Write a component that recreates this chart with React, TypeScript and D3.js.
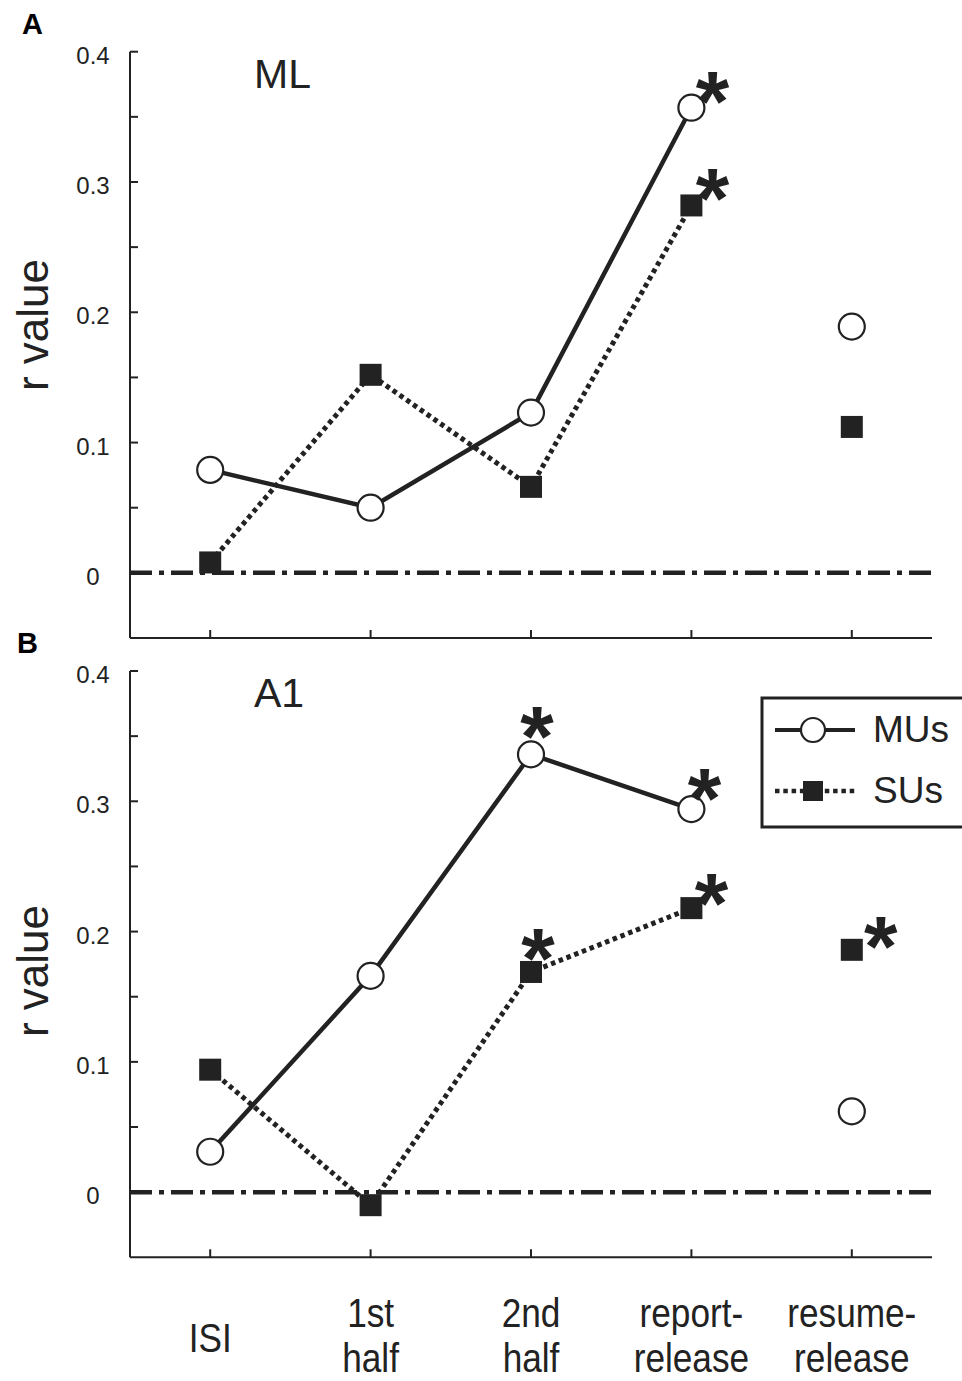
import React, { useRef, useEffect } from 'react';
import * as d3 from 'd3';

// categories on the x axis
const categories = ['ISI', '1st half', '2nd half', 'report-release', 'resume-release'];
const categoryLines = [['ISI'], ['1st', 'half'], ['2nd', 'half'], ['report-', 'release'], ['resume-', 'release']];

// r values, panel A (ML)
const mlMU = [0.079, 0.05, 0.123, 0.357, 0.189];
const mlSU = [0.008, 0.152, 0.066, 0.282, 0.112];
// r values, panel B (A1)
const a1MU = [0.031, 0.166, 0.336, 0.294, 0.062];
const a1SU = [0.094, -0.01, 0.169, 0.218, 0.186];

// significance marks
const mlMUsig = [false, false, false, true, false];
const mlSUsig = [false, false, false, true, false];
const a1MUsig = [false, false, true, true, false];
const a1SUsig = [false, false, true, true, true];

// first N categories are joined by a line
const joinedCount = 4;

const yMajor = [0, 0.1, 0.2, 0.3, 0.4];
const yMinor = [0.05, 0.15, 0.25, 0.35];
const yDomain = [-0.05, 0.4];

const INK = '#222';
const FONT = '"Liberation Sans", Arial, Helvetica, sans-serif';

// where the asterisk sits relative to its point, per panel/series/index
const starOffset = {
    'A-MU-3': [21, -26], 'A-SU-3': [21, -27],
    'B-MU-2': [6, -38], 'B-MU-3': [13, -31],
    'B-SU-2': [7, -33], 'B-SU-3': [20, -25], 'B-SU-4': [29, -23]
};

const App = () => {
    const ref = useRef(null);

    useEffect(() => {
        const svg = d3.select(ref.current);
        svg.selectAll('*').remove();

        const x = d3.scalePoint().domain(categories).range([130, 932]).padding(0.5);
        const starSize = 86;

        const drawPanel = (key, letter, name, top, titleY, mu, su, muSig, suSig) => {
            const y = d3.scaleLinear().domain(yDomain).range([top + 586.3, top]);
            const g = svg.append('g');
            const x0 = x.range()[0];
            const x1 = x.range()[1];

            // zero line, dash-dot
            g.append('line')
                .attr('x1', x0).attr('x2', x1)
                .attr('y1', y(0)).attr('y2', y(0))
                .attr('stroke', INK).attr('stroke-width', 4.5)
                .attr('stroke-dasharray', '22 7 5 7');

            // y axis with inward ticks
            g.append('line')
                .attr('x1', x0).attr('x2', x0)
                .attr('y1', y(0.4)).attr('y2', y(-0.05))
                .attr('stroke', INK).attr('stroke-width', 2);
            g.selectAll('.ytick').data(yMajor.concat(yMinor)).enter().append('line')
                .attr('x1', x0).attr('x2', x0 + 8)
                .attr('y1', d => y(d)).attr('y2', d => y(d))
                .attr('stroke', INK).attr('stroke-width', 2);
            g.selectAll('.ylab').data(yMajor).enter().append('text')
                .attr('x', 93).attr('y', d => y(d) + 12)
                .attr('text-anchor', 'middle')
                .style('font-family', FONT).style('font-size', '24px').attr('fill', INK)
                .text(d => d === 0 ? '0' : d3.format('.1f')(d));

            // x axis with upward ticks
            g.append('line')
                .attr('x1', x0).attr('x2', x1)
                .attr('y1', y(-0.05)).attr('y2', y(-0.05))
                .attr('stroke', INK).attr('stroke-width', 2);
            g.selectAll('.xtick').data(categories).enter().append('line')
                .attr('x1', d => x(d)).attr('x2', d => x(d))
                .attr('y1', y(-0.05)).attr('y2', y(-0.05) - 8)
                .attr('stroke', INK).attr('stroke-width', 2);

            // axis title
            g.append('text')
                .attr('transform', 'translate(48,' + titleY + ') rotate(-90)')
                .attr('text-anchor', 'middle')
                .style('font-family', FONT).style('font-size', '44px').attr('fill', INK)
                .text('r value');

            // panel letter and region name
            g.append('text')
                .attr('x', letter === 'A' ? 22 : 17).attr('y', top - 18)
                .style('font-family', FONT).style('font-size', '29px').style('font-weight', 'bold')
                .attr('fill', '#000')
                .text(letter);
            g.append('text')
                .attr('x', 254).attr('y', top + 36)
                .style('font-family', FONT).style('font-size', '41px').attr('fill', INK)
                .text(name);

            const line = d3.line().x(d => x(categories[d.i])).y(d => y(d.v));
            const pts = arr => arr.map((v, i) => ({ v, i }));

            // SUs dotted line
            g.append('path')
                .datum(pts(su).slice(0, joinedCount))
                .attr('fill', 'none').attr('stroke', INK)
                .attr('stroke-width', 5).attr('stroke-dasharray', '4.5 3.8')
                .attr('d', line);
            // MUs solid line
            g.append('path')
                .datum(pts(mu).slice(0, joinedCount))
                .attr('fill', 'none').attr('stroke', INK).attr('stroke-width', 4.5)
                .attr('d', line);

            // squares
            g.selectAll('.su').data(pts(su)).enter().append('rect')
                .attr('x', d => x(categories[d.i]) - 11).attr('y', d => y(d.v) - 11)
                .attr('width', 22).attr('height', 22)
                .attr('fill', INK);
            // circles
            g.selectAll('.mu').data(pts(mu)).enter().append('circle')
                .attr('cx', d => x(categories[d.i])).attr('cy', d => y(d.v))
                .attr('r', 13).attr('fill', '#fff')
                .attr('stroke', INK).attr('stroke-width', 2.2);

            // asterisks
            const stars = [];
            mu.forEach((v, i) => { if (muSig[i]) stars.push({ v, i, s: 'MU' }); });
            su.forEach((v, i) => { if (suSig[i]) stars.push({ v, i, s: 'SU' }); });
            g.selectAll('.star').data(stars).enter().append('text')
                .attr('x', d => x(categories[d.i]) + starOffset[key + '-' + d.s + '-' + d.i][0])
                .attr('y', d => y(d.v) + starOffset[key + '-' + d.s + '-' + d.i][1] + starSize * 0.575)
                .attr('text-anchor', 'middle')
                .style('font-family', FONT).style('font-size', starSize + 'px').style('font-weight', 'bold')
                .attr('fill', INK)
                .text('*');
        };

        drawPanel('A', 'A', 'ML', 51.7, 325, mlMU, mlSU, mlMUsig, mlSUsig);
        drawPanel('B', 'B', 'A1', 671, 971, a1MU, a1SU, a1MUsig, a1SUsig);

        // category labels under panel B
        const lab = svg.selectAll('.xlab').data(categoryLines).enter().append('g')
            .attr('transform', (d, i) => 'translate(' + x(categories[i]) + ',0)');
        lab.each(function (d) {
            const base = d.length === 1 ? [1352] : [1327, 1372];
            d.forEach((t, k) => {
                d3.select(this).append('text')
                    .attr('transform', 'translate(0,' + base[k] + ') scale(0.88,1)')
                    .attr('text-anchor', 'middle')
                    .style('font-family', FONT).style('font-size', '40px').attr('fill', INK)
                    .text(t);
            });
        });

        // legend
        const lg = svg.append('g');
        lg.append('rect')
            .attr('x', 762).attr('y', 698).attr('width', 230).attr('height', 129)
            .attr('fill', '#fff').attr('stroke', INK).attr('stroke-width', 3);
        lg.append('line').attr('x1', 775).attr('x2', 855).attr('y1', 730).attr('y2', 730)
            .attr('stroke', INK).attr('stroke-width', 4);
        lg.append('circle').attr('cx', 813).attr('cy', 730).attr('r', 12)
            .attr('fill', '#fff').attr('stroke', INK).attr('stroke-width', 2.2);
        lg.append('line').attr('x1', 775).attr('x2', 855).attr('y1', 791).attr('y2', 791)
            .attr('stroke', INK).attr('stroke-width', 4.5).attr('stroke-dasharray', '4.5 3.8');
        lg.append('rect').attr('x', 803).attr('y', 781).attr('width', 20).attr('height', 20)
            .attr('fill', INK);
        lg.append('text').attr('x', 873).attr('y', 742)
            .style('font-family', FONT).style('font-size', '37px').attr('fill', INK).text('MUs');
        lg.append('text').attr('x', 873).attr('y', 803)
            .style('font-family', FONT).style('font-size', '37px').attr('fill', INK).text('SUs');
    }, []);

    return (
        <svg ref={ref} width={962} height={1381}
            style={{ position: 'absolute', left: 0, top: 0, background: '#fff' }}></svg>
    );
};

export default App;
